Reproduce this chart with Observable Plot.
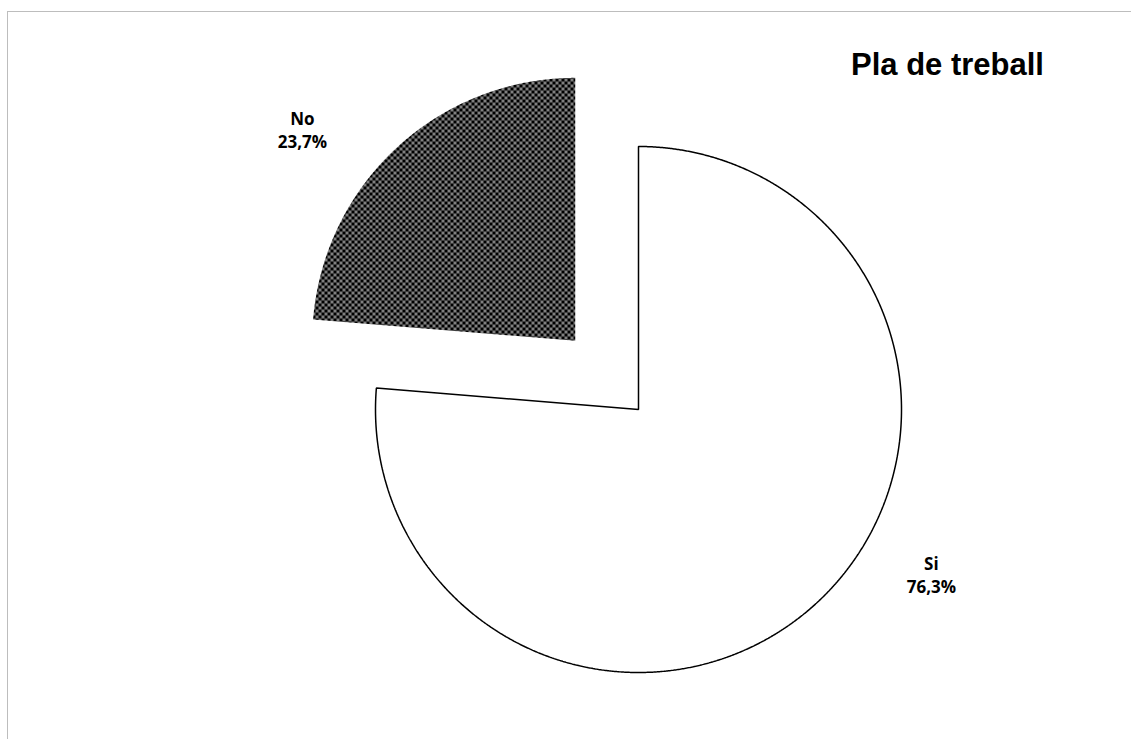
<!DOCTYPE html>
<html>
<head>
<meta charset="utf-8">
<script src="https://cdn.jsdelivr.net/npm/d3@7"></script>
<script src="https://cdn.jsdelivr.net/npm/@observablehq/plot@0.6"></script>
<style>
  html, body { margin: 0; padding: 0; background: #fff; }
  #wrap { position: relative; width: 1131px; height: 739px; overflow: hidden; }
  #frame { position: absolute; left: 7px; top: 11px; width: 1200px; height: 800px;
           border-left: 1.5px solid #bdbdbd; border-top: 1.5px solid #bdbdbd; pointer-events: none; }
  #wrap svg { position: absolute; left: 0; top: 0; }
</style>
</head>
<body>
<div id="wrap"><div id="frame"></div></div>
<script>
// ---- data ----
const categories = ["Si", "No"];
const values = [76.3, 23.7];
const valueLabels = ["76,3%", "23,7%"];
const title = "Pla de treball";

// ---- layout (code, not data) ----
const W = 1131, H = 739;
const R = 263;               // pixel radius
const cx = 638, cy = 409;    // pixel centre of pie
const explode = { Si: 0, No: 0.355 };
const labelPlace = { Si: { angle: 119.3, r: 1.277 }, No: { angle: 307.8, r: 1.313 } };

const pie = d3.pie().sort(null).value(d => d.value).startAngle(0).endAngle(2 * Math.PI);
const arcs = pie(categories.map((c, i) => ({ cat: c, value: values[i], label: valueLabels[i] })));

const polys = [];
const labels = [];
for (const a of arcs) {
  const cat = a.data.cat;
  const mid = (a.startAngle + a.endAngle) / 2;
  const ox = explode[cat] * Math.sin(mid), oy = explode[cat] * Math.cos(mid);
  polys.push({ cat, x: ox, y: oy });
  const n = Math.max(8, Math.ceil((a.endAngle - a.startAngle) / (Math.PI / 720)));
  for (let k = 0; k <= n; k++) {
    const t = a.startAngle + (a.endAngle - a.startAngle) * k / n;
    polys.push({ cat, x: ox + Math.sin(t), y: oy + Math.cos(t) });
  }
  const lp = labelPlace[cat];
  const la = lp.angle * Math.PI / 180;
  labels.push({ cat, text: cat + "\n" + a.data.label, x: ox + lp.r * Math.sin(la), y: oy + lp.r * Math.cos(la) });
}

const xDomain = [-cx / R, (W - cx) / R];
const yDomain = [-(H - cy) / R, cy / R];

const defs = () => {
  const g = d3.create("svg:defs");
  const p = g.append("pattern").attr("id", "checker").attr("patternUnits", "userSpaceOnUse")
    .attr("width", 6).attr("height", 6);
  p.append("rect").attr("width", 6).attr("height", 6).attr("fill", "#000");
  p.append("rect").attr("width", 3).attr("height", 3).attr("fill", "#808080");
  p.append("rect").attr("x", 3).attr("y", 3).attr("width", 3).attr("height", 3).attr("fill", "#808080");
  return g.node();
};

const chart = Plot.plot({
  width: W,
  height: H,
  margin: 0,
  x: { domain: xDomain, axis: null },
  y: { domain: yDomain, axis: null },
  marks: [
    defs,
    Plot.line(polys.filter(d => d.cat === "Si"), { x: "x", y: "y", curve: "linear-closed",
      fill: "#ffffff", stroke: "#000", strokeWidth: 1.5, strokeLinejoin: "miter" }),
    Plot.line(polys.filter(d => d.cat === "No"), { x: "x", y: "y", curve: "linear-closed",
      fill: "url(#checker)", stroke: "none" }),
    Plot.text(labels, { x: "x", y: "y", text: "text", fontFamily: "Open Sans", fontWeight: "bold",
      fontSize: 17, lineHeight: 1.38, fill: "#000", textAnchor: "middle" }),
    Plot.text([title], { frameAnchor: "top-left", dx: 947, dy: 74, lineAnchor: "bottom",
      textAnchor: "middle", fontFamily: "Liberation Sans, Arial", fontWeight: "bold",
      fontSize: 31, fill: "#000" })
  ]
});
chart.style.background = "transparent";
document.getElementById("wrap").insertBefore(chart, document.getElementById("frame"));
</script>
</body>
</html>
